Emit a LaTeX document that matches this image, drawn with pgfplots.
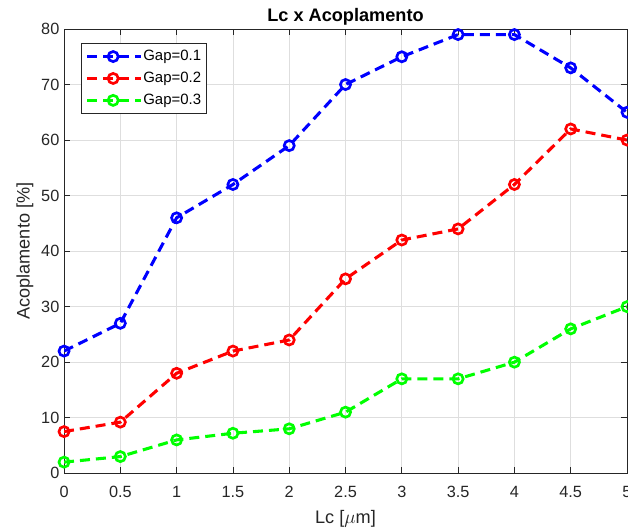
\documentclass[border=0pt]{standalone}
\usepackage{fontspec}
\setmainfont{Liberation Sans}
\usepackage{pgfplots}
\pgfplotsset{compat=1.18}
\definecolor{axgray}{gray}{0.15}
\definecolor{gridgray}{gray}{0.87}
\begin{document}
\begin{tikzpicture}
\begin{axis}[
  scale only axis,
  width=422pt, height=333pt,
  xmin=0, xmax=5, ymin=0, ymax=80,
  xtick={0,0.5,...,5}, ytick={0,10,...,80},
  grid=major,
  major grid style={gridgray, line width=0.6pt},
  axis line style={axgray, line width=0.6pt},
  tick style={axgray, line width=0.6pt},
  tick align=inside,
  major tick length=4.5pt,
  /pgf/number format/assume math mode=true,
  ticklabel style={font=\fontsize{12.2}{14}\selectfont, text=axgray},
  xticklabel style={yshift=-6pt},
  title={\bfseries Lc x Acoplamento},
  title style={font=\fontsize{13.6}{16}\selectfont, yshift=-7pt},
  xlabel={Lc [$\mu$m]},
  ylabel={Acoplamento [\%]},
  label style={font=\fontsize{13.6}{16}\selectfont, text=axgray},
  xlabel style={yshift=-3pt},
  ylabel style={yshift=-1pt},
  legend style={at={(0.0305,0.9685)}, anchor=north west, draw=axgray, line width=0.6pt,
    font=\fontsize{11.2}{13}\selectfont, row sep=3.1pt, inner xsep=3pt, inner ysep=3.2pt,
    nodes={inner xsep=1pt}},
  legend cell align=left,
  legend image code/.code={%
    \path (0pt,0pt) -- (40pt,0pt);
    \draw[#1] (0pt,0pt) -- (28pt,0pt);
    \draw[#1] plot coordinates {(19.5pt,0pt)};
    \draw[#1, solid, line width=1.6pt] (38pt,-1.1pt) -- (38pt,1.1pt);},
  every axis plot/.append style={line width=2.3pt, dash pattern=on 7.5pt off 4.5pt, mark=o, mark size=3.8pt, mark options={solid, line width=2pt}},
]
\addplot[color=blue] coordinates {(0,22)(0.5,27)(1,46)(1.5,52)(2,59)(2.5,70)(3,75)(3.5,79)(4,79)(4.5,73)(5,65)};
\addlegendentry{Gap=0.1}
\addplot[color=red] coordinates {(0,7.5)(0.5,9.2)(1,18)(1.5,22)(2,24)(2.5,35)(3,42)(3.5,44)(4,52)(4.5,62)(5,60)};
\addlegendentry{Gap=0.2}
\addplot[color=green] coordinates {(0,2)(0.5,3)(1,6)(1.5,7.2)(2,8)(2.5,11)(3,17)(3.5,17)(4,20)(4.5,26)(5,30)};
\addlegendentry{Gap=0.3}
\coordinate (SW) at (rel axis cs:0,0);
\coordinate (NE) at (rel axis cs:1,1);
\end{axis}
\pgfresetboundingbox
\path ([shift={(-48pt,-42pt)}]SW) rectangle ([shift={(0.75pt,21.75pt)}]NE);
\end{tikzpicture}
\end{document}
